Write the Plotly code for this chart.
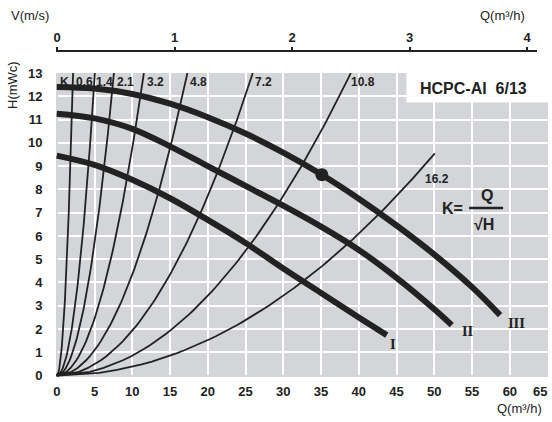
import numpy as np
import plotly.graph_objects as go

# ---------------- data ----------------
# Pump curves (Q in m3/h, H in mWc)
Q_I = [0, 5, 10, 15, 20, 25, 30, 35, 40, 43.7]
H_I = [9.45, 9.05, 8.41, 7.62, 6.69, 5.7, 4.6, 3.55, 2.5, 1.74]
Q_II = [0, 5, 10, 15, 20, 25, 30, 35, 40, 45, 50, 52.3]
H_II = [11.25, 11.05, 10.6, 9.85, 9.0, 8.15, 7.3, 6.4, 5.4, 4.2, 2.85, 2.17]
Q_III = [0, 5, 10, 15, 20, 25, 30, 35, 40, 45, 50, 55, 58.7]
H_III = [12.4, 12.33, 12.1, 11.68, 11.1, 10.4, 9.58, 8.65, 7.6, 6.45, 5.2, 3.8, 2.6]
CURVE_NAMES = ["I", "II", "III"]

# System curves K = Q / sqrt(H)
K_VALUES = [0.6, 1.4, 2.1, 3.2, 4.8, 7.2, 10.8, 16.2]
K_H_MAX = [13, 13, 13, 13, 13, 13, 13, 9.55]
K_LABELS = ["K", "0.6", "1.4", "2.1", "3.2", "4.8", "7.2", "10.8"]

# Duty point
DUTY_Q = [35.1]
DUTY_H = [8.63]

X_TICKS = list(range(0, 61, 5))
Y_TICKS = list(range(0, 14))
V_TICKS = [0, 1, 2, 3, 4]

# ---------------- layout helpers ----------------
W, HGT = 552, 422
L, R, T, B = 56, 4, 51, 45
PW, PH = W - L - R, HGT - T - B


def px(x):
    return (x - L) / PW


def py(y):
    return (HGT - B - y) / PH


Y_DOMAIN_TOP = py(73)
INK = "#222222"
BG = "#d3d5d8"
FONT = "Arial, Liberation Sans, Helvetica, sans-serif"

fig = go.Figure()

# system curves
for k, hmax in zip(K_VALUES, K_H_MAX):
    hh = np.linspace(0, hmax, 80)
    fig.add_trace(go.Scatter(x=k * np.sqrt(hh), y=hh, mode="lines",
                             line=dict(color=INK, width=1.8),
                             hoverinfo="skip", showlegend=False))

# pump curves
for qs, hs in [(Q_I, H_I), (Q_II, H_II), (Q_III, H_III)]:
    fig.add_trace(go.Scatter(x=qs, y=hs, mode="lines",
                             line=dict(color=INK, width=6, shape="spline", smoothing=1.0),
                             showlegend=False))

fig.add_trace(go.Scatter(x=DUTY_Q, y=DUTY_H, mode="markers",
                         marker=dict(color=INK, size=13), showlegend=False))

# invisible trace for top axis
fig.add_trace(go.Scatter(x=[0], y=[0], xaxis="x2", mode="markers",
                         marker=dict(opacity=0), hoverinfo="skip", showlegend=False))

bold13 = dict(family=FONT, size=13, color=INK, weight="bold")

fig.update_layout(
    width=W, height=HGT,
    margin=dict(l=L, r=R, t=T, b=B, pad=0),
    paper_bgcolor="white",
    plot_bgcolor=BG,
    showlegend=False,
    xaxis=dict(range=[-0.1, 65.05], tickvals=X_TICKS, showgrid=True,
               gridcolor="white", gridwidth=2, zeroline=True, zerolinecolor=BG,
               showline=False, ticks="outside", ticklen=2, tickcolor="rgba(0,0,0,0)",
               tickfont=bold13),
    yaxis=dict(range=[-0.06, 13.0], tickvals=Y_TICKS, domain=[0, Y_DOMAIN_TOP],
               showgrid=True, gridcolor="white", gridwidth=2, zeroline=True,
               zerolinecolor=BG, showline=False, ticks="outside", ticklen=10,
               tickcolor="rgba(0,0,0,0)", tickfont=bold13),
    xaxis2=dict(overlaying="x", side="top", anchor="free", position=1,
                range=[-1 / 117.5, (548 - 57) / 117.5], tickvals=V_TICKS,
                showgrid=False, zeroline=False, showline=False,
                ticks="outside", ticklen=4, tickwidth=2, tickcolor=INK,
                tickfont=bold13),
)

# top axis line (ends a little before the plot's right edge)
fig.add_shape(type="line", xref="paper", yref="paper", x0=px(56), x1=px(537), y0=1, y1=1,
              line=dict(color=INK, width=2))

# model box
fig.add_shape(type="rect", xref="x", yref="y", x0=46.3, x1=65.05, y0=11.73, y1=13.0,
              fillcolor="white", line=dict(width=0), layer="between")


def note(text, x, y, font, xref="paper", yref="paper", **kw):
    return dict(text=text, x=x, y=y, xref=xref, yref=yref, showarrow=False,
                xanchor="center", yanchor="middle", font=font, **kw)


ann = []
ann.append(note("HCPC-AI  6/13", px(473), py(88),
                dict(family=FONT, size=16, color=INK, weight="bold")))

# K labels in the top band
K_LABEL_X = [0.98, 3.62, 6.27, 9.13, 13.1, 18.8, 27.4, 40.6]
small = dict(family=FONT, size=12, color=INK, weight="bold")
for lab, xv in zip(K_LABELS, K_LABEL_X):
    ann.append(note(lab, xv, 12.62, small, "x", "y"))
ann.append(note("16.2", 50.3, 8.45, small, "x", "y"))

# last bottom tick label, kept inside the figure as in the reference
ann.append(note("65", px(540), py(391), bold13))

# curve names
roman = dict(family="DejaVu Serif, Liberation Serif, serif", size=12, color=INK, weight="bold")
for name, xv, yv in zip(CURVE_NAMES, [44.5, 54.5, 60.9], [1.32, 1.88, 2.22]):
    ann.append(note(name, xv, yv, roman, "x", "y"))

# formula
fml = dict(family=FONT, size=16, color=INK, weight="bold")
ann.append(note("K=", 52.4, 7.2, fml, "x", "y"))
ann.append(note("Q", 57.0, 7.72, fml, "x", "y"))
ann.append(note("√H", 56.6, 6.5, fml, "x", "y"))
fig.add_shape(type="line", xref="x", yref="y", x0=54.6, x1=59.1, y0=7.2, y1=7.2,
              line=dict(color=INK, width=2.5), layer="above")

# axis titles
reg = dict(family=FONT, size=13, color=INK)
ann.append(note("V(m/s)", px(30), py(16), reg))
ann.append(note("Q(m³/h)", px(502), py(16), reg))
ann.append(note("Q(m³/h)", px(519), py(408), reg))
ann.append(note("H(mWc)", px(13), py(85), reg, textangle=-90))

fig.update_layout(annotations=ann)
fig.write_html("out.html")
